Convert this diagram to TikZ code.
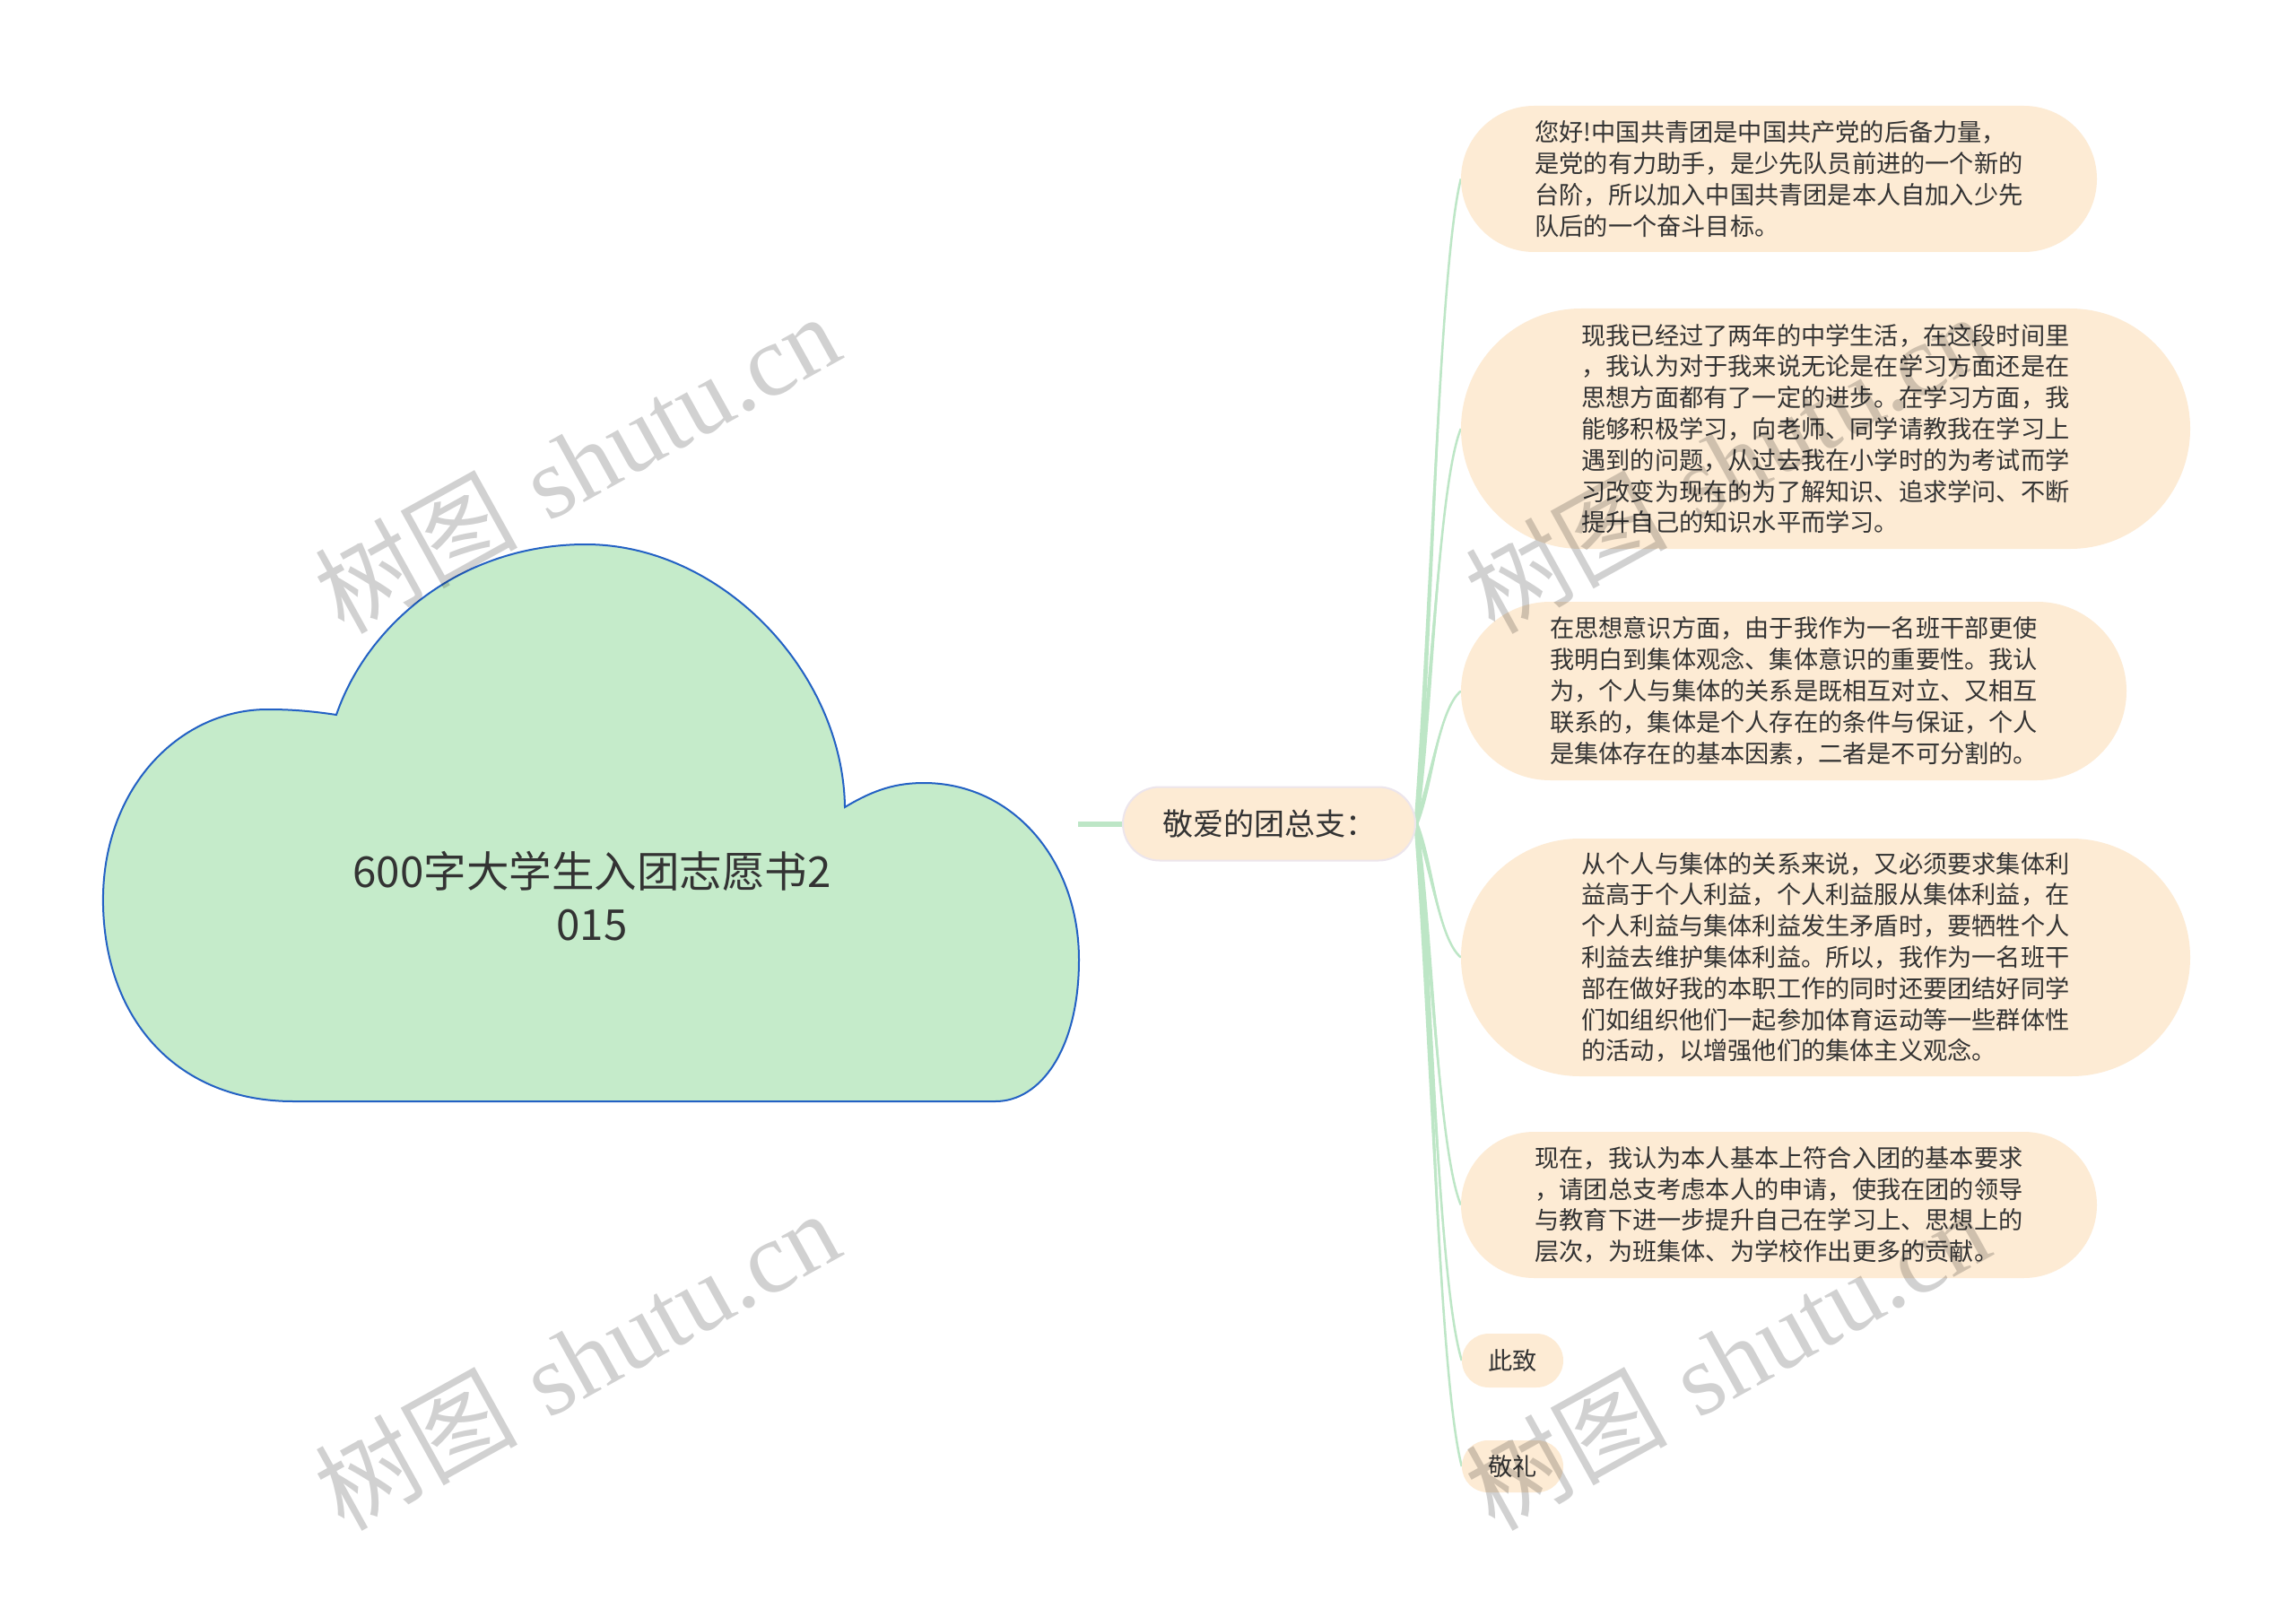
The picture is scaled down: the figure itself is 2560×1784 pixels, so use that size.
\documentclass[tikz,border=0pt]{standalone}
\usepackage{fontspec}
\newfontfamily\cjk{Noto Sans CJK SC}
\newfontfamily\wmserif{Liberation Serif}
\usetikzlibrary{calc,backgrounds}
\definecolor{cloudfill}{HTML}{C5EBCA}
\definecolor{cloudline}{HTML}{2361C4}
\definecolor{peach}{HTML}{FDEBD4}
\definecolor{lnk}{HTML}{BDE6C6}
\definecolor{txt}{HTML}{333333}
\definecolor{cborder}{HTML}{ECE5EC}
\tikzset{
  leaf/.style={fill=peach, inner sep=0pt, align=left, text=txt,
    font=\cjk\fontsize{27.2}{34.8}\selectfont},
  root/.style={fill=peach, draw=cborder, line width=2pt, inner sep=0pt,
    text=txt, font=\cjk\fontsize{34}{40}\selectfont},
  titletext/.style={inner sep=0pt, align=center, text=txt,
    font=\cjk\fontsize{47.5}{59}\selectfont},
  wm/.style={rotate=29, text=black, text opacity=0.18, inner sep=0pt,
    font=\fontsize{113}{120}\selectfont}
}
\newcommand\branch[1]{%
  \fill[lnk] let \p0=(c.east), \p3=(#1.west),
     \n1={\y0+0.30*(\y3-\y0)}, \n2={\y3+0.14*(\y0-\y3)} in
     (\x0-2.5pt,\y0) .. controls (\x0+14pt,\n1) and (\x0+25pt,\n2) .. (\x3,\y3)
     .. controls (\x0+25pt,\n2) and (\x0+20pt,\n1) .. (\x0+2.5pt,\y0) -- cycle;
  \draw[lnk, line width=2.5pt] let \p0=(c.east), \p3=(#1.west),
     \n1={\y0+0.30*(\y3-\y0)}, \n2={\y3+0.14*(\y0-\y3)} in
     (c.east) .. controls (\x0+17pt,\n1) and (\x0+25pt,\n2) .. (#1.west);
}
\begin{document}
\begin{tikzpicture}[x=1pt,y=-1pt]
\useasboundingbox (0,0) rectangle (2560,1784);

% cloud
\draw[fill=cloudfill, draw=cloudline, line width=2pt]
  (327,1228) .. controls (200,1228) and (118,1140) .. (115,1010)
  .. controls (112,880) and (200,790) .. (300,791)
  .. controls (330,791) and (355,794) .. (375,797)
  .. controls (410,695) and (515,607) .. (653,607)
  .. controls (805,607) and (940,750) .. (942,900)
  .. controls (975,880) and (1000,873) .. (1030,873)
  .. controls (1130,873) and (1203,960) .. (1203,1070)
  .. controls (1203,1170) and (1160,1228) .. (1110,1228)
  -- cycle;
\node[titletext] (t) at (660,999) {600字大学生入团志愿书2\\015};
\coordinate (croot) at (1202,918.5);

\node[root, minimum width=326pt, minimum height=82pt, rounded corners=41pt] (c) at (1415,918.5) {敬爱的团总支：};

\node[leaf, minimum width=709pt, minimum height=163pt, rounded corners=81.5pt] (n1) at (1983.5,199.5) {%
您好!中国共青团是中国共产党的后备力量，\\%
是党的有力助手，是少先队员前进的一个新的\\%
台阶，所以加入中国共青团是本人自加入少先\\%
队后的一个奋斗目标。};

\node[leaf, minimum width=813pt, minimum height=268pt, rounded corners=134pt] (n2) at (2035.5,478) {%
现我已经过了两年的中学生活，在这段时间里\\%
，我认为对于我来说无论是在学习方面还是在\\%
思想方面都有了一定的进步。在学习方面，我\\%
能够积极学习，向老师、同学请教我在学习上\\%
遇到的问题，从过去我在小学时的为考试而学\\%
习改变为现在的为了解知识、追求学问、不断\\%
提升自己的知识水平而学习。};

\node[leaf, minimum width=742pt, minimum height=199pt, rounded corners=99.5pt] (n3) at (2000,770.5) {%
在思想意识方面，由于我作为一名班干部更使\\%
我明白到集体观念、集体意识的重要性。我认\\%
为，个人与集体的关系是既相互对立、又相互\\%
联系的，集体是个人存在的条件与保证，个人\\%
是集体存在的基本因素，二者是不可分割的。};

\node[leaf, minimum width=813pt, minimum height=265pt, rounded corners=132.5pt] (n4) at (2035.5,1067.5) {%
从个人与集体的关系来说，又必须要求集体利\\%
益高于个人利益，个人利益服从集体利益，在\\%
个人利益与集体利益发生矛盾时，要牺牲个人\\%
利益去维护集体利益。所以，我作为一名班干\\%
部在做好我的本职工作的同时还要团结好同学\\%
们如组织他们一起参加体育运动等一些群体性\\%
的活动，以增强他们的集体主义观念。};

\node[leaf, minimum width=709pt, minimum height=163pt, rounded corners=81.5pt] (n5) at (1983.5,1343.5) {%
现在，我认为本人基本上符合入团的基本要求\\%
，请团总支考虑本人的申请，使我在团的领导\\%
与教育下进一步提升自己在学习上、思想上的\\%
层次，为班集体、为学校作出更多的贡献。};

\node[leaf, minimum width=113pt, minimum height=60pt, rounded corners=30pt] (n6) at (1686.5,1517) {此致};
\node[leaf, minimum width=113pt, minimum height=58pt, rounded corners=29pt] (n7) at (1686.5,1635) {敬礼};

\begin{pgfonlayer}{background}
\fill[white] (0,0) rectangle (2560,1784);
\draw[lnk, line width=6pt] (croot) -- (c.west);
\branch{n1}
\branch{n2}
\branch{n3}
\branch{n4}
\branch{n5}
\branch{n6}
\branch{n7}
\end{pgfonlayer}

% watermarks
\node[wm] (w1) at (643,516) {{\cjk 树图} {\wmserif shutu.cn}};
\node[wm] (w2) at (643,1516) {{\cjk 树图} {\wmserif shutu.cn}};
\node[wm] (w3) at (1925,516) {{\cjk 树图} {\wmserif shutu.cn}};
\node[wm] (w4) at (1925,1516) {{\cjk 树图} {\wmserif shutu.cn}};
\end{tikzpicture}
\end{document}
